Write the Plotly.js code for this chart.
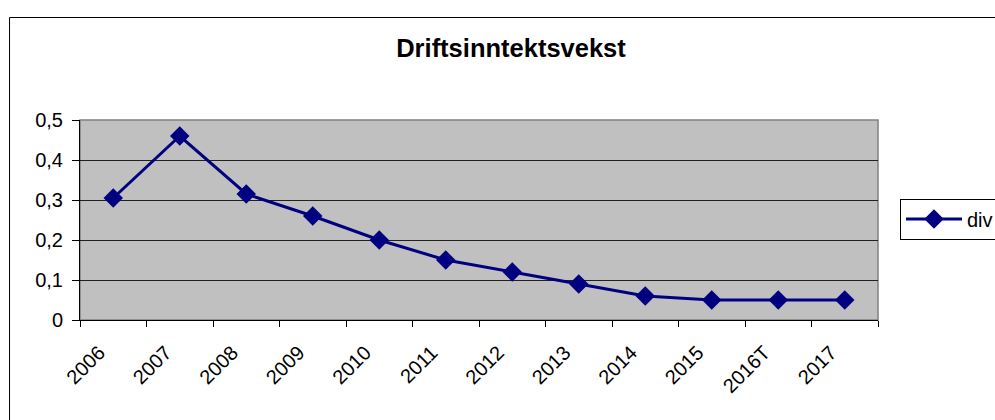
<!DOCTYPE html>
<html><head><meta charset="utf-8">
<script src="https://cdn.plot.ly/plotly-3.0.1.min.js"></script>
<style>html,body{margin:0;padding:0;background:#fff}#c{width:995px;height:420px;overflow:hidden}</style>
</head><body><div id="c"></div>
<script>
const categories = ['2006','2007','2008','2009','2010','2011','2012','2013','2014','2015','2016T','2017'];
const values = [0.305, 0.46, 0.315, 0.26, 0.20, 0.15, 0.12, 0.09, 0.06, 0.05, 0.05, 0.05];
const seriesName = 'div';
const titleText = 'Driftsinntektsvekst';

const F = 'Liberation Sans, Arial, sans-serif';
const W = 1060;
const trace = {
  x: categories, y: values, type: 'scatter', mode: 'lines+markers', name: seriesName,
  line: {color: '#000080', width: 3},
  marker: {symbol: 'diamond', size: 15, color: '#000080'}
};
const layout = {
  width: W, height: 420,
  margin: {l: 80, r: W - 878, t: 120, b: 100},
  paper_bgcolor: '#ffffff', plot_bgcolor: '#c0c0c0',
  separators: ', ',
  title: {text: '<b>' + titleText + '</b>', font: {family: F, size: 25.5, color: '#000'},
          xref: 'container', x: 511 / W, xanchor: 'center', yref: 'container', y: 1 - 48 / 420, yanchor: 'middle'},
  xaxis: {type: 'category', tickson: 'boundaries', ticks: 'outside', ticklen: 6, tickcolor: '#000',
          showline: true, linecolor: '#000', linewidth: 1, showgrid: false, tickangle: -45,
          ticklabelshift: -14, ticklabelstandoff: 12,
          tickfont: {family: F, size: 20, color: '#000'}, range: [-0.5, 11.5], zeroline: false},
  yaxis: {range: [0, 0.5], dtick: 0.1, ticks: 'outside', ticklen: 7, tickcolor: '#000',
          ticklabelstandoff: 5,
          showline: true, linecolor: '#000', linewidth: 1, showgrid: true, gridcolor: '#202020', gridwidth: 1,
          zeroline: false, tickfont: {family: F, size: 20, color: '#000'}},
  showlegend: true,
  legend: {x: (900 - 80) / 798, xanchor: 'left', y: 0.505, yanchor: 'middle', bordercolor: '#000', borderwidth: 1,
           itemwidth: 56, font: {family: F, size: 20, color: '#000'}, bgcolor: '#fff'},
  shapes: [
    {type: 'rect', xref: 'paper', yref: 'paper', x0: 0, x1: 1, y0: 0, y1: 1,
     line: {color: '#808080', width: 1.5}, layer: 'below'},
    {type: 'rect', xref: 'paper', yref: 'paper', x0: -0.0883, x1: 1.3, y0: -1, y1: 1.5125,
     line: {color: '#000', width: 1}, fillcolor: 'rgba(0,0,0,0)'}
  ]
};
Plotly.newPlot('c', [trace], layout, {displayModeBar: false, staticPlot: true});
</script></body></html>
